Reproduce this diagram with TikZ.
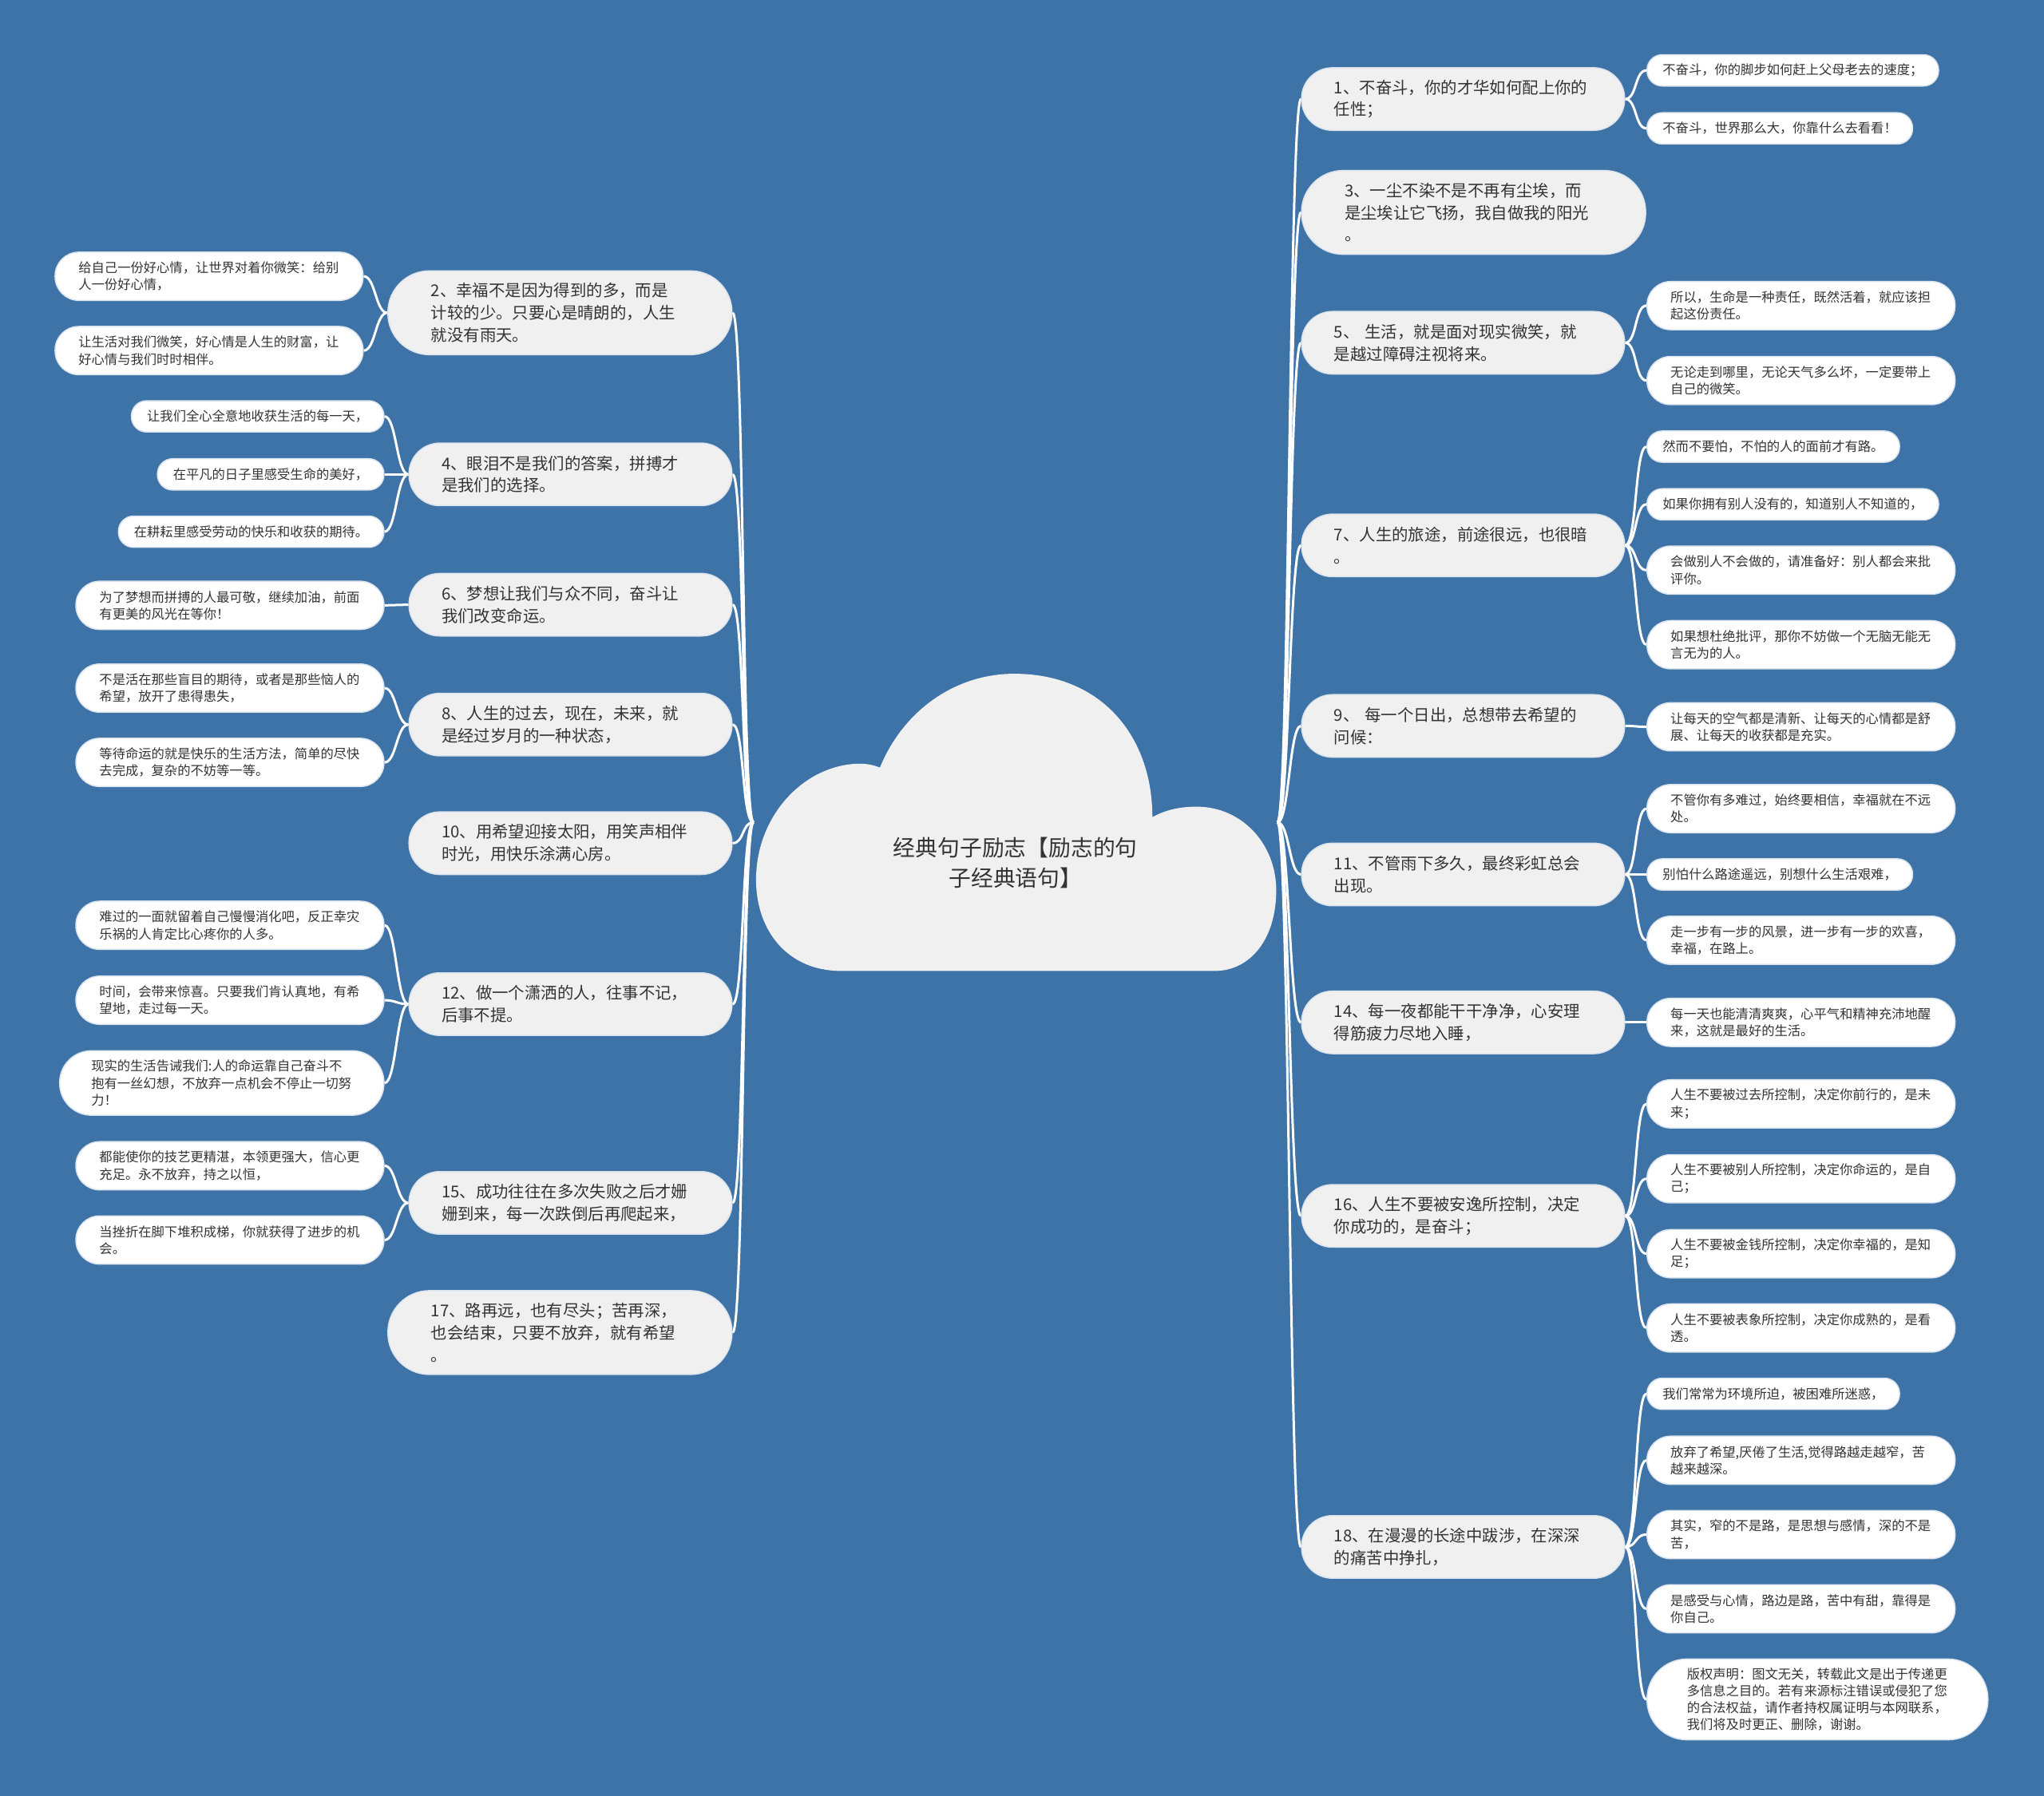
\documentclass[tikz,border=0pt]{standalone}
\usepackage{fontspec}
\setmainfont{Noto Sans CJK SC}
\usetikzlibrary{calc}
\definecolor{bgc}{HTML}{3E73A8}
\definecolor{mainfill}{HTML}{F0F0F0}
\definecolor{txt}{HTML}{333333}
\definecolor{edgec}{HTML}{DCE5EE}
\pgfdeclarelayer{back}
\pgfdeclarelayer{lines}
\pgfsetlayers{back,lines,main}
\newcommand\lkL[2]{\draw[link] (#1) .. controls ($(#1)+(-9,0)$) and ($(#2)+(9,0)$) .. (#2);}
\newcommand\lkR[2]{\draw[link] (#1) .. controls ($(#1)+(9,0)$) and ($(#2)+(-9,0)$) .. (#2);}
\begin{document}
\begin{tikzpicture}[x=1.6327pt,y=-1.6327pt,
  link/.style={draw=white,line width=3pt},
  mainbox/.style={rectangle,rounded corners=38.7pt,fill=mainfill,draw=edgec,line width=1.5pt,text=txt,
    font=\fontsize{20.4pt}{27.8pt}\selectfont,align=left,text width=323pt,inner xsep=40.8pt,inner ysep=0pt,minimum height=78.4pt},
  bigmain/.style={minimum height=105pt,rounded corners=52pt,inner xsep=54pt},
  mainL/.style={mainbox,anchor=east},
  mainR/.style={mainbox,anchor=west},
  leafbox/.style={rectangle,rounded corners=19.1pt,fill=white,draw=edgec,line width=1.5pt,text=txt,
    font=\fontsize{16.3pt}{21.2pt}\selectfont,align=left,inner xsep=19.6pt,inner ysep=0pt,minimum height=39.2pt},
  leaftwo/.style={leafbox,text width=327pt,inner xsep=29.4pt,minimum height=60.4pt,rounded corners=29.7pt},
  leafL/.style={leafbox,anchor=east},
  leafR/.style={leafbox,anchor=west},
  twoL/.style={leaftwo,anchor=east},
  twoR/.style={leaftwo,anchor=west},
  roottext/.style={text=txt,font=\fontsize{27.8pt}{37.5pt}\selectfont,align=center,inner sep=0pt}
]
\begin{pgfonlayer}{back}
\fill[bgc] (0,0) rectangle (1568,1378);
\end{pgfonlayer}
\useasboundingbox (0,0) rectangle (1568,1378);

% cloud
\fill[mainfill] (645,745) .. controls (605,745) and (580,715) .. (580,675)
  .. controls (580,625) and (618,586) .. (660,586)
  .. controls (665,586) and (670,587) .. (675,589)
  .. controls (693,545) and (733,517) .. (778,517)
  .. controls (845,517) and (884,565) .. (884,627)
  .. controls (895,621) and (906,619) .. (918,619)
  .. controls (953,619) and (979,648) .. (979,683)
  .. controls (979,722) and (958,745) .. (932,745) -- cycle;
\node[roottext] (root) at (779,662) {经典句子励志【励志的句\\子经典语句】};
\coordinate (cL) at (578,631);
\coordinate (cR) at (980,631);

% left main nodes
\node[mainL,bigmain] (n2) at (562,240) {2、幸福不是因为得到的多，而是\\计较的少。只要心是晴朗的，人生\\就没有雨天。};
\node[mainL] (n4) at (562,364) {4、眼泪不是我们的答案，拼搏才\\是我们的选择。};
\node[mainL] (n6) at (562,464) {6、梦想让我们与众不同，奋斗让\\我们改变命运。};
\node[mainL] (n8) at (562,556) {8、人生的过去，现在，未来，就\\是经过岁月的一种状态，};
\node[mainL] (n10) at (562,647) {10、用希望迎接太阳，用笑声相伴\\时光，用快乐涂满心房。};
\node[mainL] (n12) at (562,770.5) {12、做一个潇洒的人，往事不记，\\后事不提。};
\node[mainL] (n15) at (562,923) {15、成功往往在多次失败之后才姗\\姗到来，每一次跌倒后再爬起来，};
\node[mainL,bigmain] (n17) at (562,1022.5) {17、路再远，也有尽头；苦再深，\\也会结束，只要不放弃，就有希望\\。};

% left leaves
\node[twoL] (L2a) at (279,212) {给自己一份好心情，让世界对着你微笑：给别\\人一份好心情，};
\node[twoL] (L2b) at (279,269) {让生活对我们微笑，好心情是人生的财富，让\\好心情与我们时时相伴。};
\node[leafL] (L4a) at (295,319.5) {让我们全心全意地收获生活的每一天，};
\node[leafL] (L4b) at (295,364) {在平凡的日子里感受生命的美好，};
\node[leafL] (L4c) at (295,408) {在耕耘里感受劳动的快乐和收获的期待。};
\node[twoL] (L6a) at (295,464.5) {为了梦想而拼搏的人最可敬，继续加油，前面\\有更美的风光在等你！};
\node[twoL] (L8a) at (295,528) {不是活在那些盲目的期待，或者是那些恼人的\\希望，放开了患得患失，};
\node[twoL] (L8b) at (295,585) {等待命运的就是快乐的生活方法，简单的尽快\\去完成，复杂的不妨等一等。};
\node[twoL] (L12a) at (295,710) {难过的一面就留着自己慢慢消化吧，反正幸灾\\乐祸的人肯定比心疼你的人多。};
\node[twoL] (L12b) at (295,767.5) {时间，会带来惊喜。只要我们肯认真地，有希\\望地，走过每一天。};
\node[twoL,minimum height=80.8pt,rounded corners=40pt,inner xsep=39.6pt] (L12c) at (295,831) {现实的生活告诫我们:人的命运靠自己奋斗不\\抱有一丝幻想，不放弃一点机会不停止一切努\\力！};
\node[twoL] (L15a) at (295,894.5) {都能使你的技艺更精湛，本领更强大，信心更\\充足。永不放弃，持之以恒，};
\node[twoL] (L15b) at (295,951.5) {当挫折在脚下堆积成梯，你就获得了进步的机\\会。};

% right main nodes
\node[mainR] (n1) at (998,76) {1、不奋斗，你的才华如何配上你的\\任性；};
\node[mainR,bigmain] (n3) at (998,163) {3、一尘不染不是不再有尘埃，而\\是尘埃让它飞扬，我自做我的阳光\\。};
\node[mainR] (n5) at (998,263) {5、 生活，就是面对现实微笑，就\\是越过障碍注视将来。};
\node[mainR] (n7) at (998,418.5) {7、人生的旅途，前途很远，也很暗\\。};
\node[mainR] (n9) at (998,557) {9、 每一个日出，总想带去希望的\\问候：};
\node[mainR] (n11) at (998,671) {11、不管雨下多久，最终彩虹总会\\出现。};
\node[mainR] (n14) at (998,784.5) {14、每一夜都能干干净净，心安理\\得筋疲力尽地入睡，};
\node[mainR] (n16) at (998,933) {16、人生不要被安逸所控制，决定\\你成功的，是奋斗；};
\node[mainR] (n18) at (998,1187) {18、在漫漫的长途中跋涉，在深深\\的痛苦中挣扎，};

% right leaves
\node[leafR] (R1a) at (1263,54) {不奋斗，你的脚步如何赶上父母老去的速度；};
\node[leafR] (R1b) at (1263,98.5) {不奋斗，世界那么大，你靠什么去看看！};
\node[twoR] (R5a) at (1263,234.5) {所以，生命是一种责任，既然活着，就应该担\\起这份责任。};
\node[twoR] (R5b) at (1263,292) {无论走到哪里，无论天气多么坏，一定要带上\\自己的微笑。};
\node[leafR] (R7a) at (1263,342.7) {然而不要怕，不怕的人的面前才有路。};
\node[leafR] (R7b) at (1263,387) {如果你拥有别人没有的，知道别人不知道的，};
\node[twoR] (R7c) at (1263,437.5) {会做别人不会做的，请准备好：别人都会来批\\评你。};
\node[twoR] (R7d) at (1263,494.7) {如果想杜绝批评，那你不妨做一个无脑无能无\\言无为的人。};
\node[twoR] (R9a) at (1263,557.7) {让每天的空气都是清新、让每天的心情都是舒\\展、让每天的收获都是充实。};
\node[twoR] (R11a) at (1263,620.5) {不管你有多难过，始终要相信，幸福就在不远\\处。};
\node[leafR] (R11b) at (1263,671) {别怕什么路途遥远，别想什么生活艰难，};
\node[twoR] (R11c) at (1263,721.5) {走一步有一步的风景，进一步有一步的欢喜，\\幸福，在路上。};
\node[twoR] (R14a) at (1263,784.5) {每一天也能清清爽爽，心平气和精神充沛地醒\\来，这就是最好的生活。};
\node[twoR] (R16a) at (1263,847) {人生不要被过去所控制，决定你前行的，是未\\来；};
\node[twoR] (R16b) at (1263,904.5) {人生不要被别人所控制，决定你命运的，是自\\己；};
\node[twoR] (R16c) at (1263,962) {人生不要被金钱所控制，决定你幸福的，是知\\足；};
\node[twoR] (R16d) at (1263,1019) {人生不要被表象所控制，决定你成熟的，是看\\透。};
\node[leafR] (R18a) at (1263,1069.5) {我们常常为环境所迫，被困难所迷惑，};
\node[twoR] (R18b) at (1263,1120.5) {放弃了希望,厌倦了生活,觉得路越走越窄，苦\\越来越深。};
\node[twoR] (R18c) at (1263,1177.5) {其实，窄的不是路，是思想与感情，深的不是\\苦，};
\node[twoR] (R18d) at (1263,1234.5) {是感受与心情，路边是路，苦中有甜，靠得是\\你自己。};
\node[twoR,minimum height=101.2pt,rounded corners=50pt,inner xsep=50pt] (R18e) at (1263,1304) {版权声明：图文无关，转载此文是出于传递更\\多信息之目的。若有来源标注错误或侵犯了您\\的合法权益，请作者持权属证明与本网联系，\\我们将及时更正、删除，谢谢。};

\begin{pgfonlayer}{lines}
\foreach \n in {n2,n4,n6,n8,n10,n12,n15,n17} {\lkL{cL}{\n.east}}
\foreach \n in {n1,n3,n5,n7,n9,n11,n14,n16,n18} {\lkR{cR}{\n.west}}
\lkL{n2.west}{L2a.east}
\lkL{n2.west}{L2b.east}
\lkL{n4.west}{L4a.east}
\lkL{n4.west}{L4b.east}
\lkL{n4.west}{L4c.east}
\lkL{n6.west}{L6a.east}
\lkL{n8.west}{L8a.east}
\lkL{n8.west}{L8b.east}
\lkL{n12.west}{L12a.east}
\lkL{n12.west}{L12b.east}
\lkL{n12.west}{L12c.east}
\lkL{n15.west}{L15a.east}
\lkL{n15.west}{L15b.east}
\lkR{n1.east}{R1a.west}
\lkR{n1.east}{R1b.west}
\lkR{n5.east}{R5a.west}
\lkR{n5.east}{R5b.west}
\lkR{n7.east}{R7a.west}
\lkR{n7.east}{R7b.west}
\lkR{n7.east}{R7c.west}
\lkR{n7.east}{R7d.west}
\lkR{n9.east}{R9a.west}
\lkR{n11.east}{R11a.west}
\lkR{n11.east}{R11b.west}
\lkR{n11.east}{R11c.west}
\lkR{n14.east}{R14a.west}
\lkR{n16.east}{R16a.west}
\lkR{n16.east}{R16b.west}
\lkR{n16.east}{R16c.west}
\lkR{n16.east}{R16d.west}
\lkR{n18.east}{R18a.west}
\lkR{n18.east}{R18b.west}
\lkR{n18.east}{R18c.west}
\lkR{n18.east}{R18d.west}
\lkR{n18.east}{R18e.west}
\end{pgfonlayer}
\end{tikzpicture}
\end{document}
